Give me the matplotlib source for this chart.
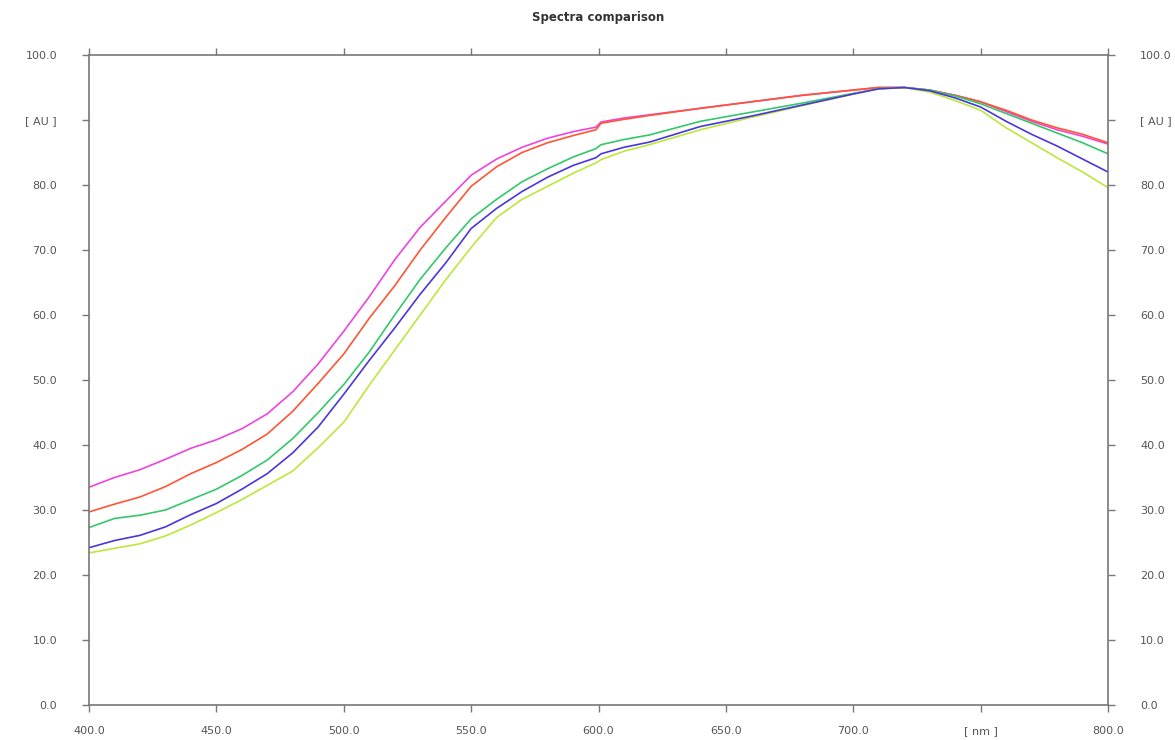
import numpy as np
import matplotlib.pyplot as plt

# wavelength grid [nm] (small step at 600 nm in the instrument data)
wl = [400, 410, 420, 430, 440, 450, 460, 470, 480, 490, 500, 510, 520, 530, 540,
      550, 560, 570, 580, 590, 599, 601, 610, 620, 640, 660, 680, 700, 710, 720,
      730, 740, 750, 760, 770, 780, 790, 800]

magenta = [33.5, 35.0, 36.2, 37.8, 39.5, 40.8, 42.5, 44.8, 48.2, 52.5, 57.5, 62.8, 68.5, 73.5, 77.5,
           81.5, 84.0, 85.8, 87.2, 88.2, 88.9, 89.7, 90.3, 90.8, 91.8, 92.8, 93.8, 94.6, 95.0, 95.0,
           94.6, 93.8, 92.8, 91.3, 89.8, 88.5, 87.5, 86.3]
red = [29.7, 30.9, 32.0, 33.6, 35.6, 37.3, 39.3, 41.7, 45.2, 49.5, 54.0, 59.5, 64.5, 70.0, 75.0,
       79.8, 82.8, 85.0, 86.5, 87.6, 88.5, 89.5, 90.1, 90.7, 91.8, 92.8, 93.8, 94.6, 95.0, 95.0,
       94.6, 93.8, 92.8, 91.5, 90.0, 88.8, 87.8, 86.5]
green = [27.3, 28.7, 29.2, 30.0, 31.6, 33.2, 35.3, 37.7, 41.0, 45.0, 49.3, 54.3, 60.0, 65.5, 70.3,
         74.8, 77.8, 80.5, 82.5, 84.3, 85.6, 86.2, 87.0, 87.7, 89.8, 91.2, 92.6, 94.1, 94.8, 95.0,
         94.6, 93.7, 92.5, 91.0, 89.5, 88.0, 86.5, 84.8]
blue = [24.2, 25.3, 26.1, 27.4, 29.3, 31.0, 33.2, 35.6, 38.8, 42.8, 47.8, 53.0, 58.0, 63.2, 68.0,
        73.3, 76.4, 79.0, 81.2, 83.0, 84.2, 84.8, 85.8, 86.6, 89.0, 90.6, 92.3, 94.0, 94.8, 95.0,
        94.5, 93.4, 92.0, 89.8, 87.8, 86.0, 84.0, 82.0]
yellow = [23.4, 24.1, 24.8, 26.0, 27.7, 29.6, 31.6, 33.8, 36.0, 39.6, 43.5, 49.2, 54.6, 60.0, 65.4,
          70.4, 75.0, 77.8, 79.8, 81.8, 83.4, 83.9, 85.2, 86.2, 88.5, 90.4, 92.2, 94.0, 94.8, 95.0,
          94.3, 93.0, 91.5, 88.8, 86.5, 84.2, 82.0, 79.6]

x_ticks = [400, 450, 500, 550, 600, 650, 700, 750, 800]
x_labels = ['400.0', '450.0', '500.0', '550.0', '600.0', '650.0', '700.0', '[ nm ]', '800.0']
y_ticks = [0, 10, 20, 30, 40, 50, 60, 70, 80, 90, 100]
y_labels = ['0.0', '10.0', '20.0', '30.0', '40.0', '50.0', '60.0', '70.0', '80.0', '[ AU ]', '100.0']

fig = plt.figure(figsize=(11.75, 7.4), dpi=100)
ax = fig.add_axes([89 / 1175, 35 / 740, 1019 / 1175, 650 / 740])

ax.plot(wl, magenta, color='#ee44dd', lw=1.2)
ax.plot(wl, red, color='#ff5533', lw=1.2)
ax.plot(wl, green, color='#33c86a', lw=1.2)
ax.plot(wl, yellow, color='#bbe83a', lw=1.2)
ax.plot(wl, blue, color='#4a36dd', lw=1.2)

ax.set_xlim(400, 800)
ax.set_ylim(0, 100)
ax.set_xticks(x_ticks)
ax.set_xticklabels(x_labels)
ax.set_yticks(y_ticks)
ax.set_yticklabels(y_labels)

for s in ax.spines.values():
    s.set_color('#777777')
    s.set_linewidth(1.2)

# ticks on all four sides, labels on left, right and bottom
ax.tick_params(axis='both', direction='out', length=5, width=1,
               color='#777777', labelcolor='#555555', labelsize=8,
               top=True, right=True, labelright=True)
ax.tick_params(axis='y', pad=18)
ax.tick_params(axis='x', pad=10)

fig.text(598 / 1175, 1 - 18 / 740, 'Spectra comparison', ha='center', va='center',
         fontsize=8.5, color='#333333', fontweight='bold')

fig.savefig('out.png', dpi=100)
